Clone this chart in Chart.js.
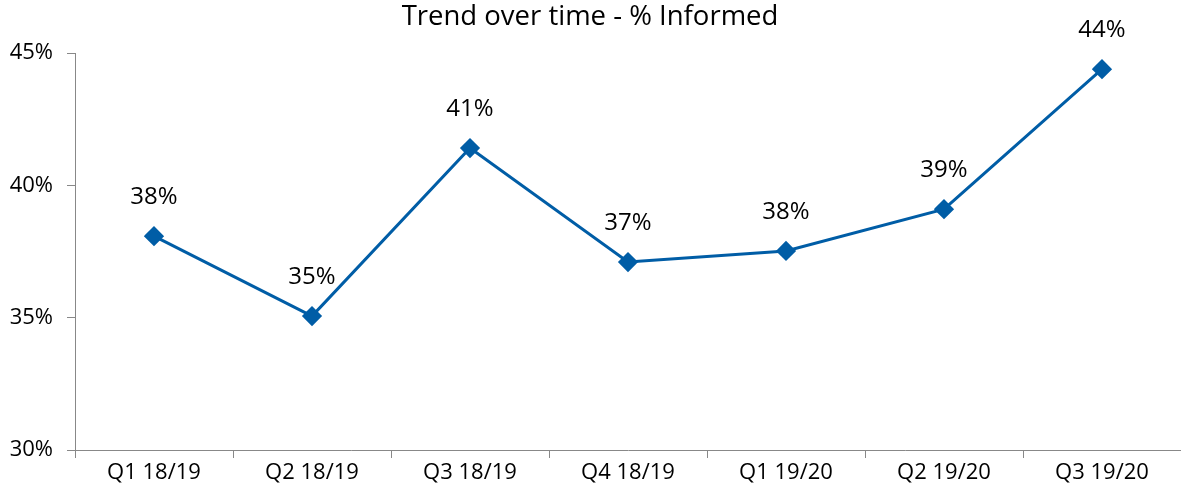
<!DOCTYPE html>
<html>
<head>
<meta charset="utf-8">
<script src="https://cdn.jsdelivr.net/npm/chart.js@4"></script>
<style>
  html, body { margin: 0; padding: 0; background: #fff; overflow: hidden; }
  #wrap { width: 1192px; height: 499px; }
</style>
</head>
<body>
<div id="wrap"><canvas id="trend"></canvas></div>
<script>
const quarters = ['Q1 18/19', 'Q2 18/19', 'Q3 18/19', 'Q4 18/19', 'Q1 19/20', 'Q2 19/20', 'Q3 19/20'];
const informed = [38.08, 35.06, 41.41, 37.1, 37.52, 39.1, 44.39];
const yTicks = [30, 35, 40, 45];

const FONT = "'Open Sans', sans-serif";

// title + labels over each point
const extras = {
  id: 'extras',
  afterDatasetsDraw(chart) {
    const ctx = chart.ctx;
    ctx.save();
    ctx.fillStyle = '#000';
    ctx.textAlign = 'center';
    ctx.textBaseline = 'middle';
    ctx.font = '24px ' + FONT;
    chart.getDatasetMeta(0).data.forEach((pt, i) => {
      ctx.fillText(Math.round(informed[i]) + '%', pt.x, pt.y - 39);
    });
    ctx.font = '27.5px ' + FONT;
    ctx.fillText('Trend over time - % Informed', 590, 17);
    ctx.restore();
  }
};

new Chart(document.getElementById('trend'), {
  type: 'line',
  data: {
    labels: quarters,
    datasets: [{
      data: informed,
      borderColor: '#005DA6',
      backgroundColor: '#005DA6',
      borderWidth: 3,
      pointStyle: 'rectRot',
      pointRadius: 8,
      pointHoverRadius: 8,
      tension: 0,
      fill: false
    }]
  },
  options: {
    responsive: true,
    maintainAspectRatio: false,
    animation: false,
    layout: { padding: { top: 53, right: 0, left: 0, bottom: 0 } },
    plugins: { legend: { display: false }, tooltip: { enabled: false } },
    scales: {
      x: {
        offset: true,
        grid: { offset: true, drawOnChartArea: false, drawTicks: true, tickLength: 8, color: '#888' },
        border: { color: '#888', width: 1 },
        ticks: { color: '#000', font: { family: FONT, size: 22 }, padding: 2, maxRotation: 0 },
        afterFit(s) { s.height = 49; }
      },
      y: {
        min: 30,
        max: 45,
        afterBuildTicks(s) { s.ticks = yTicks.map(v => ({ value: v })); },
        grid: { drawOnChartArea: false, drawTicks: true, tickLength: 8, color: '#888' },
        border: { color: '#888', width: 1 },
        ticks: { color: '#000', font: { family: FONT, size: 22 }, padding: 14, callback: v => v + '%' },
        afterFit(s) { s.width = 75; }
      }
    }
  },
  plugins: [extras]
});
</script>
</body>
</html>
